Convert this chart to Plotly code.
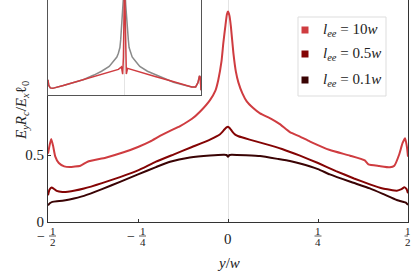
import plotly.graph_objects as go

# ---------------- data ----------------
series_names = ["l_ee = 10w", "l_ee = 0.5w", "l_ee = 0.1w"]
legend_labels = ["<i>l</i><sub><i>ee</i></sub> = 10<i>w</i>",
                 "<i>l</i><sub><i>ee</i></sub> = 0.5<i>w</i>",
                 "<i>l</i><sub><i>ee</i></sub> = 0.1<i>w</i>"]
colors = ["#cf3c40", "#840404", "#3a0304"]

x_10w = [-0.5, -0.495, -0.491, -0.486, -0.48, -0.47, -0.455, -0.44, -0.41, -0.39, -0.34, -0.29,
         -0.25, -0.217, -0.189, -0.161, -0.133, -0.1, -0.078, -0.05, -0.035, -0.027, -0.018,
         -0.013, -0.007, -0.003, 0.0, 0.004, 0.008, 0.015, 0.022, 0.029, 0.04, 0.052, 0.07,
         0.089, 0.12, 0.144, 0.172, 0.2, 0.228, 0.283, 0.339, 0.38, 0.39, 0.42, 0.45, 0.462,
         0.475, 0.485, 0.492, 0.497, 0.5]
y_10w = [0.51, 0.58, 0.62, 0.57, 0.49, 0.44, 0.415, 0.41, 0.42, 0.45, 0.48, 0.52,
         0.56, 0.60, 0.642, 0.68, 0.716, 0.77, 0.823, 0.91, 0.98, 1.06, 1.2,
         1.335, 1.47, 1.55, 1.57, 1.54, 1.46, 1.26, 1.12, 1.04, 0.96, 0.90, 0.85,
         0.81, 0.77, 0.73, 0.67, 0.637, 0.60, 0.537, 0.495, 0.46, 0.43, 0.418, 0.408, 0.42,
         0.50, 0.59, 0.625, 0.56, 0.487]

x_05w = [-0.5, -0.496, -0.49, -0.484, -0.476, -0.46, -0.445, -0.4, -0.35, -0.3, -0.25, -0.2,
         -0.15, -0.1, -0.05, -0.022, -0.01, -0.004, 0.0, 0.005, 0.012, 0.02, 0.029, 0.06,
         0.1, 0.15, 0.2, 0.25, 0.3, 0.35, 0.394, 0.43, 0.469, 0.482, 0.49, 0.496, 0.5]
y_05w = [0.20, 0.24, 0.258, 0.248, 0.232, 0.224, 0.226, 0.25, 0.29, 0.335, 0.385, 0.45,
         0.505, 0.56, 0.615, 0.655, 0.69, 0.706, 0.711, 0.70, 0.675, 0.652, 0.64, 0.615,
         0.585, 0.545, 0.495, 0.44, 0.38, 0.325, 0.281, 0.25, 0.234, 0.245, 0.259, 0.245, 0.214]

x_01w = [-0.5, -0.495, -0.488, -0.475, -0.46, -0.44, -0.4, -0.35, -0.3, -0.25, -0.2, -0.161,
         -0.106, -0.05, -0.01, -0.004, 0.0, 0.004, 0.01, 0.05, 0.089, 0.14, 0.172, 0.2, 0.25,
         0.283, 0.34, 0.394, 0.43, 0.469, 0.486, 0.494, 0.5]
y_01w = [0.125, 0.14, 0.15, 0.155, 0.158, 0.168, 0.195, 0.245, 0.30, 0.355, 0.41, 0.45,
         0.482, 0.497, 0.502, 0.5, 0.487, 0.5, 0.502, 0.498, 0.492, 0.47, 0.455, 0.437, 0.395,
         0.355, 0.30, 0.251, 0.21, 0.164, 0.151, 0.145, 0.127]

# inset (own arbitrary units)
x_inset_red = [-0.5, -0.495, -0.485, -0.47, -0.4, -0.3, -0.2, -0.1, -0.04, -0.02, -0.012,
               -0.007, -0.004, -0.002, 0.0, 0.002, 0.004, 0.007, 0.012, 0.02, 0.05, 0.1,
               0.2, 0.3, 0.4, 0.44, 0.465, 0.48, 0.49, 0.495, 0.5]
y_inset_red = [0.16, 0.10, 0.075, 0.07, 0.10, 0.145, 0.19, 0.235, 0.27, 0.295, 0.22,
               0.40, 0.9, 1.1, 1.2, 1.1, 0.9, 0.30, 0.22, 0.28, 0.265, 0.24,
               0.195, 0.15, 0.10, 0.085, 0.085, 0.13, 0.2, 0.19, 0.05]
x_inset_grey = [-0.5, -0.495, -0.485, -0.47, -0.4, -0.3, -0.27, -0.2, -0.15, -0.1, -0.075,
                -0.05, -0.04, -0.03, -0.025, -0.015, -0.008, 0.0, 0.008, 0.015, 0.025, 0.03,
                0.04, 0.05, 0.075, 0.1, 0.15, 0.2, 0.27, 0.32, 0.4, 0.44, 0.465, 0.48, 0.49,
                0.495, 0.5]
y_inset_grey = [0.16, 0.10, 0.075, 0.07, 0.10, 0.145, 0.16, 0.21, 0.25, 0.30, 0.35,
                0.40, 0.44, 0.50, 0.58, 0.75, 0.95, 1.2, 0.95, 0.75, 0.58, 0.50,
                0.44, 0.40, 0.35, 0.30, 0.25, 0.215, 0.17, 0.135, 0.10, 0.085, 0.085, 0.13, 0.2,
                0.19, 0.05]

xtick_vals = [-0.5, -0.25, 0.0, 0.25, 0.5]
xtick_sign = ["\u2212", "\u2212", "", "", ""]
xtick_num = ["1", "1", "0", "1", "1"]
xtick_den = ["2", "4", "", "4", "2"]
ytick_vals = [0, 0.5]
ytick_text = ["0", "0.5"]

# ---------------- figure ----------------
W, H = 415, 275
L, R, T, B = 48, 7, 0, 53
PW, PH = W - L - R, H - T - B


def px(x):
    return (x - L) / PW


def py(y):
    return (T + PH - y) / PH


FONT = "Liberation Serif, DejaVu Serif, serif"
INK = "#222222"


def fnt(size):
    return dict(family=FONT, size=size, color=INK)


fig = go.Figure()

main = [(x_01w, y_01w, colors[2]), (x_05w, y_05w, colors[1]), (x_10w, y_10w, colors[0])]
names = [series_names[2], series_names[1], series_names[0]]
for (xs, ys, c), n in zip(main, names):
    fig.add_trace(go.Scatter(x=xs, y=ys, mode="lines", name=n, showlegend=False,
                             line=dict(color=c, width=2, shape="spline", smoothing=0.4),
                             xaxis="x", yaxis="y"))

fig.add_trace(go.Scatter(x=x_inset_grey, y=y_inset_grey, mode="lines", showlegend=False,
                         line=dict(color="#8a8a8a", width=1.5), xaxis="x2", yaxis="y2"))
fig.add_trace(go.Scatter(x=x_inset_red, y=y_inset_red, mode="lines", showlegend=False,
                         line=dict(color=colors[0], width=1.5), xaxis="x2", yaxis="y2"))

axis_common = dict(showgrid=False, showline=True, mirror=True, linecolor="#333333", linewidth=1)
fig.update_layout(
    width=W, height=H, margin=dict(l=L, r=R, t=T, b=B, autoexpand=False),
    paper_bgcolor="white", plot_bgcolor="white",
    font=fnt(15),
    xaxis=dict(range=[-0.5, 0.5], domain=[0, 1], tickvals=xtick_vals, showticklabels=False,
               ticks="inside", ticklen=3, tickcolor="#333333", automargin=False,
               zeroline=True, zerolinecolor="#e4e4e4", zerolinewidth=1, **axis_common),
    yaxis=dict(range=[0, PH / 134.0], domain=[0, 1], tickvals=ytick_vals, ticktext=ytick_text,
               ticks="inside", ticklen=3, tickcolor="#333333", zeroline=False, automargin=False,
               tickfont=fnt(15), **axis_common),
    xaxis2=dict(range=[-0.5, 0.5], domain=[0, px(201)], anchor="y2", showticklabels=False,
                ticks="", zeroline=True, zerolinecolor="#e4e4e4", zerolinewidth=1,
                showgrid=False, showline=True, mirror=True, linecolor="#555555", linewidth=1),
    yaxis2=dict(range=[0, 1], domain=[py(95), 1], anchor="x2", showticklabels=False,
                ticks="", zeroline=False,
                showgrid=False, showline=True, mirror=True, linecolor="#555555", linewidth=1),
    showlegend=False,
)

shapes = []
annotations = []

# x tick labels as stacked fractions
for v, s, n, d in zip(xtick_vals, xtick_sign, xtick_num, xtick_den):
    if d == "":
        annotations.append(dict(x=v, y=0, xref="x", yref="paper", text=n, showarrow=False,
                                yanchor="middle", yshift=-16.5, font=fnt(15)))
        continue
    off = 4.5 if s else 0
    if s:
        annotations.append(dict(x=v, y=0, xref="x", yref="paper", text=s, showarrow=False,
                                xanchor="center", yanchor="middle", xshift=off - 12,
                                yshift=-14, font=fnt(14)))
    annotations.append(dict(x=v, y=0, xref="x", yref="paper", text=n, showarrow=False,
                            xanchor="center", yanchor="middle", xshift=off, yshift=-9,
                            font=fnt(11)))
    annotations.append(dict(x=v, y=0, xref="x", yref="paper", text=d, showarrow=False,
                            xanchor="center", yanchor="middle", xshift=off, yshift=-19.5,
                            font=fnt(11)))
    shapes.append(dict(type="line", xref="x", yref="paper", xsizemode="pixel",
                       ysizemode="pixel", xanchor=v, yanchor=0,
                       x0=off - 3.5, x1=off + 3.5, y0=-14, y1=-14,
                       line=dict(color="#333333", width=0.8)))

# axis titles
annotations.append(dict(x=px(11), y=0.5, xref="paper", yref="paper",
                        text="<i>E</i><sub><i>y</i></sub><i>R</i><sub><i>c</i></sub>/<i>E</i><sub><i>x</i></sub>\u2113<sub>0</sub>",
                        textangle=-90, showarrow=False, font=fnt(15)))
annotations.append(dict(x=0, y=py(263), xref="x", yref="paper", text="<i>y</i>/<i>w</i>",
                        showarrow=False, yanchor="middle", font=fnt(15)))

# legend box
shapes.append(dict(type="rect", xref="paper", yref="paper", x0=px(298), x1=px(386),
                   y0=py(96), y1=py(17), line=dict(color="#dddddd", width=1),
                   fillcolor="white", layer="above"))
leg_y = [30, 54, 80]
for lab, c, yy in zip(legend_labels, colors, leg_y):
    shapes.append(dict(type="rect", xref="paper", yref="paper", x0=px(301.5), x1=px(308.5),
                       y0=py(yy + 3.5), y1=py(yy - 3.5), line=dict(width=0), fillcolor=c,
                       layer="above"))
    annotations.append(dict(x=px(321), y=py(yy), xref="paper", yref="paper", text=lab,
                            showarrow=False, xanchor="left", yanchor="middle",
                            font=fnt(15)))

fig.update_layout(shapes=shapes, annotations=annotations)
fig.write_html("out.html", config={"displayModeBar": False},
               post_script="document.body.style.margin='0';")
